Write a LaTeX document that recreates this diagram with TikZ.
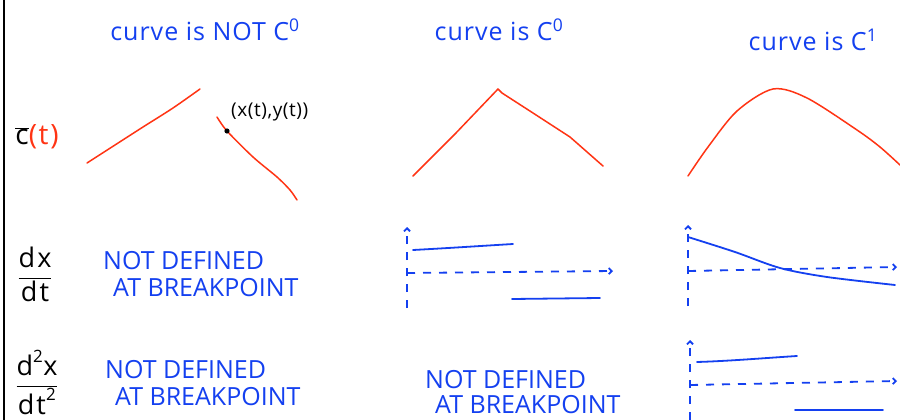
\documentclass[tikz,border=0pt]{standalone}
\usepackage{fontspec}
\setmainfont{Open Sans}
\usetikzlibrary{arrows.meta}
\definecolor{pen}{HTML}{1440F0}
\definecolor{ink}{HTML}{FF3414}
\tikzset{
  x=1pt,y=-1pt,
  bluetxt/.style={text=pen,inner sep=0pt,font=\fontsize{25}{27}\selectfont\addfontfeatures{LetterSpace=4}},
  capstxt/.style={text=pen,inner sep=0pt,font=\fontsize{25}{27}\selectfont},
  fractxt/.style={inner sep=0pt,font=\fontsize{27}{29}\selectfont\addfontfeatures{LetterSpace=8}},
  redcurve/.style={draw=ink,line width=1.5pt,line cap=round,line join=round},
  bluecurve/.style={draw=pen,line width=1.8pt,line cap=round},
  axis/.style={draw=pen,line width=1.8pt,dash pattern=on 8pt off 8pt},
  axtip/.style={-{Straight Barb[length=3pt,width=6pt]}}
}
\begin{document}
\begin{tikzpicture}
\useasboundingbox (0,0) rectangle (900,420);
\fill[white] (0,0) rectangle (900,420);
% left border
\draw[line width=1.5pt] (4,0) -- (4,420);
% column titles
\node[bluetxt] (t1) at (205,30) {curve is NOT C\textsuperscript{0}};
\node[bluetxt] (t2) at (499,30) {curve is C\textsuperscript{0}};
\node[bluetxt] (t3) at (813,40) {curve is C\textsuperscript{1}};
% row labels
\node[inner sep=0pt,font=\fontsize{28}{30}\selectfont\addfontfeatures{LetterSpace=6}] (cl) at (37,137) {$\overline{\mbox{c}}$\textcolor{ink}{(t)}};
\node[fractxt] (dx) at (35,274) {$\displaystyle\frac{\mbox{dx}}{\mbox{dt}}$};
\node[fractxt] (ddx) at (37,382) {$\displaystyle\frac{\mbox{d}^{\mbox{\fontsize{17}{17}\selectfont 2}}\mbox{x}}{\mbox{dt}^{\mbox{\fontsize{17}{17}\selectfont 2}}}$};
% row 1 curves
\draw[redcurve] plot[smooth] coordinates {(87,163) (115,145) (143,127) (173,108) (200,89)};
\draw[redcurve] plot[smooth] coordinates {(217,117) (227,131) (253,157) (277,177) (290,190) (297,200)};
\fill (227,131) circle (2.6pt);
\node[inner sep=0pt,font=\fontsize{19}{21}\selectfont\addfontfeatures{LetterSpace=3},anchor=west] (pt) at (231,112) {(x(t),y(t))};
\draw[redcurve] (413,176) -- (455,134) -- (498,89) -- (502,93) -- (533,113) -- (570,137) -- (603,166);
\draw[redcurve] plot[smooth] coordinates {(688,176) (708,147) (737,111) (773,89) (807,98) (857,130) (880,147) (900,165)};
% not defined texts
\node[capstxt,anchor=west] (n1a) at (103,261) {NOT DEFINED};
\node[capstxt,anchor=west] (n1b) at (113,288) {AT BREAKPOINT};
\node[capstxt,anchor=west] (n2a) at (105,370) {NOT DEFINED};
\node[capstxt,anchor=west] (n2b) at (115,397) {AT BREAKPOINT};
\node[capstxt,anchor=west] (n3a) at (425,380) {NOT DEFINED};
\node[capstxt,anchor=west] (n3b) at (435,405) {AT BREAKPOINT};
% middle dx/dt plot
\coordinate (a1o) at (407,308);
\coordinate (a1t) at (407,227);
\coordinate (a1h) at (407,273);
\coordinate (a1r) at (613,271);
\draw[axis,axtip] (a1o) -- (a1t);
\draw[axis,axtip] (a1h) -- (a1r);
\draw[bluecurve] (413,250) .. controls (450,248) and (480,246) .. (513,244);
\draw[bluecurve] (512,299) -- (600,298);
% right dx/dt plot
\coordinate (a2o) at (688,306);
\coordinate (a2t) at (688,225);
\coordinate (a2h) at (688,271);
\coordinate (a2r) at (897,267);
\draw[axis,axtip] (a2o) -- (a2t);
\draw[axis,axtip] (a2h) -- (a2r);
\draw[bluecurve] plot[smooth] coordinates {(688,237) (735,252) (780,268) (827,277) (895,285)};
% right d2x/dt2 plot
\coordinate (a3o) at (690,420);
\coordinate (a3t) at (690,340);
\coordinate (a3h) at (690,385);
\coordinate (a3r) at (897,381);
\draw[axis,axtip] (a3o) -- (a3t);
\draw[axis,axtip] (a3h) -- (a3r);
\draw[bluecurve] (697,362) .. controls (730,361) and (765,358) .. (797,356);
\draw[bluecurve] (795,410) -- (883,410);
\end{tikzpicture}
\end{document}
